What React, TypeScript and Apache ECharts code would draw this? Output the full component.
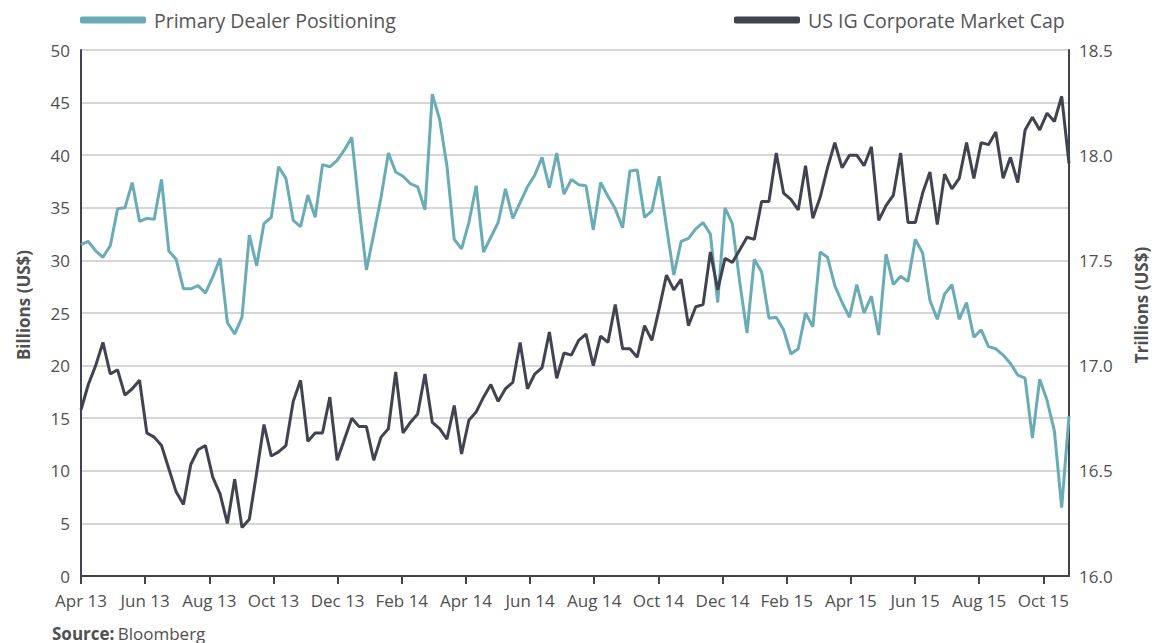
import React, { useEffect, useRef } from "react";
import * as echarts from "echarts";

// Weekly observations, Apr 2013 – Nov 2015
const dealerPositioning: number[] = [
  31.5, 31.8, 30.9, 30.3, 31.4, 34.9, 35.0, 37.4, 33.7, 34.0,
  33.9, 37.7, 30.9, 30.1, 27.3, 27.3, 27.6, 26.9, 28.4, 30.2,
  24.1, 23.0, 24.6, 32.4, 29.5, 33.5, 34.1, 38.9, 37.8, 33.8,
  33.2, 36.2, 34.1, 39.1, 38.9, 39.5, 40.5, 41.7, 35.0, 29.1,
  32.5, 36.0, 40.2, 38.4, 38.0, 37.3, 37.0, 34.8, 45.8, 43.4,
  39.0, 32.0, 31.1, 33.6, 37.1, 30.8, 32.2, 33.6, 36.8, 34.0,
  35.5, 37.0, 38.1, 39.8, 36.9, 40.2, 36.3, 37.7, 37.2, 37.1,
  32.9, 37.4, 36.1, 34.9, 33.1, 38.5, 38.6, 34.1, 34.7, 38.0,
  33.2, 28.6, 31.8, 32.1, 33.0, 33.6, 32.5, 26.0, 35.0, 33.5,
  28.0, 23.1, 30.1, 28.9, 24.5, 24.6, 23.4, 21.1, 21.6, 25.0,
  23.7, 30.8, 30.3, 27.6, 26.0, 24.6, 27.7, 25.0, 26.6, 22.9,
  30.6, 27.7, 28.5, 28.0, 32.0, 30.7, 26.2, 24.4, 26.8, 27.7,
  24.4, 26.0, 22.7, 23.4, 21.8, 21.6, 21.0, 20.2, 19.1, 18.8,
  13.1, 18.7, 16.7, 13.8, 6.5, 15.2,
];

const igMarketCap: number[] = [
  16.79, 16.91, 17.0, 17.11, 16.96, 16.98, 16.86, 16.89, 16.93, 16.68,
  16.66, 16.62, 16.51, 16.4, 16.34, 16.53, 16.6, 16.62, 16.47, 16.39,
  16.25, 16.46, 16.23, 16.27, 16.49, 16.72, 16.57, 16.59, 16.62, 16.83,
  16.93, 16.64, 16.68, 16.68, 16.85, 16.55, 16.65, 16.75, 16.71, 16.71,
  16.55, 16.66, 16.7, 16.97, 16.68, 16.73, 16.77, 16.96, 16.73, 16.7,
  16.65, 16.81, 16.58, 16.74, 16.78, 16.85, 16.91, 16.83, 16.89, 16.92,
  17.11, 16.89, 16.96, 16.99, 17.16, 16.94, 17.06, 17.05, 17.12, 17.15,
  17.0, 17.14, 17.11, 17.29, 17.08, 17.08, 17.04, 17.19, 17.12, 17.27,
  17.43, 17.36, 17.41, 17.19, 17.28, 17.29, 17.54, 17.36, 17.51, 17.49,
  17.55, 17.61, 17.6, 17.78, 17.78, 18.01, 17.82, 17.79, 17.74, 17.95,
  17.7, 17.8, 17.94, 18.06, 17.94, 18.0, 18.0, 17.95, 18.04, 17.69,
  17.76, 17.81, 18.01, 17.68, 17.68, 17.82, 17.92, 17.67, 17.91, 17.84,
  17.89, 18.06, 17.89, 18.06, 18.05, 18.11, 17.89, 17.99, 17.87, 18.12,
  18.18, 18.12, 18.2, 18.16, 18.28, 17.96,
];

const monthTickLabels: string[] = [
  "Apr 13", "Jun 13", "Aug 13", "Oct 13", "Dec 13", "Feb 14", "Apr 14", "Jun 14",
  "Aug 14", "Oct 14", "Dec 14", "Feb 15", "Apr 15", "Jun 15", "Aug 15", "Oct 15",
];

// weekly category labels
const weeks: string[] = (() => {
  const out: string[] = [];
  const start = Date.UTC(2013, 3, 5);
  for (let i = 0; i < dealerPositioning.length; i++) {
    out.push(new Date(start + i * 7 * 86400000).toISOString().slice(0, 10));
  }
  return out;
})();

const TEAL = "#6aacb6";
const DARK = "#41434f";
const TXT = "#505050";
const FONT = "'Open Sans', Lato, sans-serif";

export default function App() {
  const ref = useRef<HTMLDivElement>(null);
  useEffect(() => {
    if (!ref.current) return;
    const chart = echarts.init(ref.current, undefined, { renderer: "svg" });
    const legendCommon = {
      top: 10,
      padding: 0,
      icon: "roundRect",
      itemWidth: 66,
      itemHeight: 7,
      itemGap: 0,
      textStyle: { fontSize: 19.5, color: "#555", fontFamily: FONT, padding: [0, 0, 0, 3] },
    };
    chart.setOption({
      animation: false,
      backgroundColor: "#ffffff",
      textStyle: { fontFamily: FONT },
      grid: { left: 81, right: 86, top: 50, bottom: 67, containLabel: false },
      legend: [
        { ...legendCommon, data: ["Primary Dealer Positioning"], left: 80 },
        { ...legendCommon, data: ["US IG Corporate Market Cap"], left: 734 },
      ],
      xAxis: [
        {
          type: "category",
          data: weeks,
          boundaryGap: false,
          show: false,
        },
        {
          type: "value",
          position: "bottom",
          min: 0,
          max: 30.8,
          interval: 2,
          axisLine: { show: true, lineStyle: { color: DARK, width: 2 } },
          axisTick: { show: true, length: 8, lineStyle: { color: DARK, width: 2 } },
          splitLine: { show: false },
          axisLabel: {
            fontSize: 17,
            color: TXT,
            margin: 16,
            fontFamily: FONT,
            formatter: (v: number) => monthTickLabels[Math.round(v / 2)] ?? "",
          },
        },
      ],
      yAxis: [
        {
          type: "value",
          min: 0,
          max: 50,
          interval: 5,
          axisLine: { show: true, lineStyle: { color: DARK, width: 2 } },
          axisTick: { show: false },
          splitLine: { show: true, lineStyle: { color: "#c8c8cd", width: 1.5 } },
          axisLabel: { fontSize: 17, color: TXT, margin: 11, fontFamily: FONT },
        },
        {
          type: "value",
          min: 16,
          max: 18.5,
          interval: 0.5,
          position: "right",
          axisLine: { show: true, lineStyle: { color: DARK, width: 2 } },
          axisTick: { show: false },
          splitLine: { show: false },
          axisLabel: {
            fontSize: 17,
            color: TXT,
            margin: 10,
            fontFamily: FONT,
            formatter: (v: number) => v.toFixed(1),
          },
        },
      ],
      series: [
        {
          name: "Primary Dealer Positioning",
          type: "line",
          xAxisIndex: 0,
          yAxisIndex: 0,
          data: dealerPositioning,
          showSymbol: false,
          symbol: "none",
          lineStyle: { color: TEAL, width: 3 },
          itemStyle: { color: TEAL },
          z: 3,
        },
        {
          name: "US IG Corporate Market Cap",
          type: "line",
          xAxisIndex: 0,
          yAxisIndex: 1,
          data: igMarketCap,
          showSymbol: false,
          symbol: "none",
          lineStyle: { color: DARK, width: 3 },
          itemStyle: { color: DARK },
          z: 4,
        },
      ],
      graphic: [
        {
          type: "text",
          x: 23,
          y: 305,
          rotation: Math.PI / 2,
          style: {
            text: "Billions (US$)",
            fontSize: 17,
            fontWeight: "bold",
            fill: TXT,
            fontFamily: FONT,
            align: "center",
            verticalAlign: "middle",
          },
        },
        {
          type: "text",
          x: 1141,
          y: 305,
          rotation: Math.PI / 2,
          style: {
            text: "Trillions (US$)",
            fontSize: 17,
            fontWeight: "bold",
            fill: TXT,
            fontFamily: FONT,
            align: "center",
            verticalAlign: "middle",
          },
        },
        {
          type: "text",
          x: 52,
          y: 633,
          style: {
            text: "{b|Source:} {n|Bloomberg}",
            verticalAlign: "middle",
            rich: {
              b: { fontSize: 17, fontWeight: "bold", fill: TXT, fontFamily: FONT },
              n: { fontSize: 17, fill: TXT, fontFamily: FONT },
            },
          },
        },
      ],
    });
    return () => chart.dispose();
  }, []);
  return (
    <div
      ref={ref}
      style={{ position: "fixed", left: 0, top: 0, width: 1155, height: 643 }}
    />
  );
}
